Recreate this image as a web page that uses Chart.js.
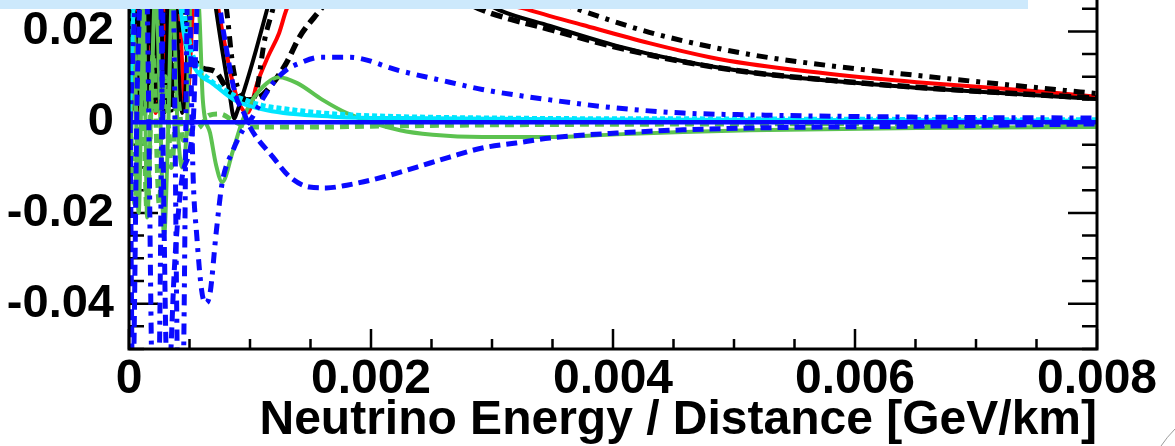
<!DOCTYPE html>
<html><head><meta charset="utf-8">
<script src="https://cdn.jsdelivr.net/npm/chart.js@4.4.1/dist/chart.umd.min.js"></script>
<style>
html,body{margin:0;padding:0;background:#fff;overflow:hidden;width:1175px;height:446px;}
#wrap{position:absolute;left:0;top:-14px;width:1175px;height:460px;}
#banner{position:absolute;left:0;top:0;width:1028px;height:9px;background:#cde9fc;}
#corner{position:absolute;left:0;top:0;}
</style></head><body>
<div id="wrap"><canvas id="c" width="1175" height="460"></canvas></div>
<div id="banner"></div>
<svg id="corner" width="1175" height="446"><path d="M1161,446 Q1167,437 1175,429" stroke="#9a9a9a" stroke-width="1" fill="none"/></svg>
<script>
// ---- axis definition ----
const xMin = 0, xMax = 0.008, xStep = 0.0005;
const yMin = -0.05, yMax = 0.03, yStep = 0.005;
const xTickValues = [0, 0.002, 0.004, 0.006, 0.008];
const xTickLabels = ['0', '0.002', '0.004', '0.006', '0.008'];
const yTickValues = [-0.04, -0.02, 0, 0.02];
const yTickLabels = ['-0.04', '-0.02', '0', '0.02'];
const xTitle = 'Neutrino Energy / Distance [GeV/km]';

// ---- series (x = E/L in GeV/km, y = value) ----
const redSolid = [[0.00001,0.004],[0.00004,0.04],[0.00008,0.002],[0.00011,0.04],[0.00014,0.003],[0.00018,0.04],[0.00022,0.002],[0.00027,0.04],[0.00032,0.003],[0.00038,0.04],[0.00047,0.0026],[0.00058,0.045],[0.00068,0.035],[0.00074,0.0247],[0.0008,0.016],[0.00085,0.0095],[0.0009,0.0048],[0.00095,0.0024],[0.00098,0.0021],[0.00101,0.0035],[0.00105,0.0078],[0.00115,0.0145],[0.00124,0.0196],[0.0013,0.0247],[0.0015,0.035],[0.002,0.045],[0.0026,0.036],[0.003,0.0272],[0.00331,0.0247],[0.00375,0.0214],[0.0043,0.0174],[0.0048,0.0143],[0.00513,0.0128],[0.0058,0.0106],[0.00651,0.0088],[0.0072,0.0074],[0.0076,0.0066],[0.008,0.0056]];
const blackSolid = [[0.000005,0.013],[0.00002,0.04],[0.00006,0.002],[0.0001,0.04],[0.00013,0.002],[0.00017,0.04],[0.0002,0.003],[0.00025,0.04],[0.00029,0.002],[0.00035,0.04],[0.00044,0.002],[0.00055,0.045],[0.00066,0.035],[0.00072,0.0247],[0.00077,0.0159],[0.00083,0.0064],[0.00087,0.0008],[0.00089,0.002],[0.00097,0.0086],[0.00105,0.0159],[0.00114,0.0247],[0.0013,0.04],[0.0019,0.045],[0.0025,0.035],[0.0029,0.027],[0.00306,0.0247],[0.00348,0.0212],[0.00403,0.0168],[0.00458,0.0134],[0.00513,0.011],[0.0058,0.0091],[0.0065,0.0076],[0.0072,0.0064],[0.008,0.0051]];
const blackDashed = [[0.00002,0.02],[0.00005,0.003],[0.00009,0.04],[0.00014,0.004],[0.00019,0.04],[0.00024,0.0027],[0.0003,0.04],[0.00035,0.0027],[0.0004,0.04],[0.00046,0.03],[0.00047,0.018],[0.00053,0.0137],[0.00061,0.0119],[0.00072,0.011],[0.0008,0.0077],[0.00091,0.0049],[0.00097,0.0049],[0.00108,0.0055],[0.00119,0.0086],[0.0013,0.013],[0.00141,0.0188],[0.00158,0.0247],[0.0018,0.032],[0.0022,0.034],[0.0026,0.029],[0.00292,0.0247],[0.00348,0.0204],[0.00403,0.0165],[0.00458,0.0133],[0.00513,0.011],[0.0058,0.0092],[0.0065,0.0077],[0.0072,0.0065],[0.008,0.0053]];
const blackDashDot = [[0.00003,0.04],[0.00008,0.003],[0.00012,0.04],[0.00016,0.003],[0.0002,0.04],[0.00026,0.0027],[0.00031,0.04],[0.00036,0.004],[0.00048,0.045],[0.0007,0.045],[0.00078,0.03],[0.00081,0.024],[0.00086,0.0121],[0.00093,0.0058],[0.001,0.0049],[0.00105,0.0064],[0.00112,0.018],[0.00118,0.024],[0.0013,0.035],[0.002,0.05],[0.003,0.035],[0.00345,0.0275],[0.00373,0.0247],[0.0043,0.0198],[0.00486,0.0163],[0.0052,0.0146],[0.0058,0.0124],[0.00651,0.0103],[0.0072,0.0084],[0.008,0.0063]];
const blueSolid = [[0,0],[0.008,0]];
const blueDashed = [[0.00001,0.0],[0.00003,-0.06],[0.00007,0.01],[0.00012,0.035],[0.00025,0.035],[0.00032,-0.06],[0.00038,-0.03],[0.00044,-0.012],[0.00053,0],[0.00057,0.03],[0.00066,0.04],[0.00078,0.02],[0.00088,0.006],[0.00095,0.002],[0.001,-0.0011],[0.00119,-0.0077],[0.00133,-0.0121],[0.00149,-0.0143],[0.00163,-0.0145],[0.0018,-0.0139],[0.0021,-0.0121],[0.00238,-0.0099],[0.00265,-0.0077],[0.00292,-0.0057],[0.0032,-0.0046],[0.00348,-0.0035],[0.00403,-0.0024],[0.00458,-0.0017],[0.00513,-0.0013],[0.00651,-0.0009],[0.008,-0.0004]];
const blueDashDot = [[0.00001,0.0],[0.00006,0.03],[0.00014,0.035],[0.0002,-0.065],[0.00024,-0.065],[0.00029,0.035],[0.00036,0.035],[0.00041,-0.065],[0.00044,-0.065],[0.00049,0.035],[0.00053,-0.012],[0.00056,-0.025],[0.0006,-0.037],[0.00063,-0.0399],[0.00067,-0.0377],[0.00072,-0.0245],[0.00077,-0.0134],[0.00086,-0.0062],[0.00094,-0.0018],[0.00102,0.0011],[0.0011,0.0049],[0.00119,0.0086],[0.0013,0.0115],[0.00141,0.013],[0.00158,0.0143],[0.00182,0.0143],[0.00224,0.0113],[0.00265,0.0088],[0.00292,0.0072],[0.00348,0.0049],[0.00403,0.0031],[0.00458,0.002],[0.00513,0.0016],[0.00651,0.0011],[0.008,0.0009]];
const greenSolid = [[0.00001,-0.015],[0.00004,0.02],[0.00008,-0.02],[0.00012,0.03],[0.00015,-0.021],[0.00018,0],[0.00022,0.03],[0.00026,0],[0.00029,-0.025],[0.00032,-0.005],[0.00036,0.03],[0.0004,0],[0.00044,-0.01],[0.00048,0],[0.00052,0.035],[0.00058,0.0247],[0.00061,0.0049],[0.00067,-0.0024],[0.00072,-0.0095],[0.00077,-0.0132],[0.00086,-0.0062],[0.00094,0.0005],[0.00102,0.0049],[0.00114,0.0086],[0.00124,0.0099],[0.00139,0.0086],[0.0016,0.0049],[0.0018,0.002],[0.00224,-0.0018],[0.00251,-0.0028],[0.00292,-0.0033],[0.00348,-0.0033],[0.00403,-0.0027],[0.00458,-0.0022],[0.00513,-0.0018],[0.00651,-0.0013],[0.008,-0.0011]];
const greenDashed = [[0.00001,0],[0.00005,-0.018],[0.0001,0.02],[0.00015,-0.02],[0.0002,0.015],[0.00025,-0.018],[0.0003,0.01],[0.00035,-0.01],[0.0004,0.005],[0.00045,-0.004],[0.0005,-0.002],[0.00058,-0.0012],[0.00066,0.0015],[0.00075,0.0018],[0.00088,0],[0.001,-0.0011],[0.0015,-0.0011],[0.002,-0.0009],[0.003,-0.0006],[0.005,-0.0004],[0.008,-0.0003]];
const cyanSolid = [[0,0],[0.00001,0.006],[0.00003,0.02],[0.00006,0.04],[0.0002,0.045],[0.00038,0.035],[0.00045,0.02],[0.0005,0.0143],[0.00057,0.0108],[0.00069,0.0085],[0.00087,0.0049],[0.00114,0.0026],[0.00168,0.0012],[0.00224,0.0009],[0.0039,0.0006],[0.0064,0.0004],[0.008,0.0003]];
const cyanDashed = [[0,0],[0.00001,0.007],[0.00003,0.022],[0.00006,0.04],[0.0002,0.045],[0.0004,0.035],[0.00048,0.02],[0.00055,0.013],[0.00066,0.0095],[0.00078,0.0072],[0.0009,0.0055],[0.0011,0.0037],[0.0013,0.0029],[0.0016,0.002],[0.002,0.0014],[0.003,0.0009],[0.005,0.0007],[0.008,0.0005]];

const FONT = "'Liberation Sans', Arial, Helvetica, sans-serif";

function mk(label, pts, color, width, dash) {
  return {
    label, data: pts.map(p => ({x: p[0], y: p[1]})),
    borderColor: color, backgroundColor: color, borderWidth: width,
    borderDash: dash || [], pointRadius: 0, fill: false,
    cubicInterpolationMode: 'monotone', borderCapStyle: 'butt'
  };
}

const datasets = [
  mk('blue solid', blueSolid, '#0a0aff', 4.5),
  mk('blue dash-dot', blueDashDot, '#0a0aff', 5, [11,7,4,7]),
  mk('blue dashed', blueDashed, '#0a0aff', 5, [11,6]),
  mk('cyan solid', cyanSolid, '#00e6ff', 4),
  mk('cyan dashed', cyanDashed, '#00e6ff', 5, [5,3]),
  mk('green solid', greenSolid, '#5cc250', 4),
  mk('green dashed', greenDashed, '#5cc250', 5, [9,6]),
  mk('black dash-dot', blackDashDot, '#000000', 5, [11,7,4,7]),
  mk('black dashed', blackDashed, '#000000', 5.5, [12,6]),
  mk('black solid', blackSolid, '#000000', 4),
  mk('red solid', redSolid, '#ff0000', 4)
];

function near(v, arr) { for (let i = 0; i < arr.length; i++) if (Math.abs(v - arr[i]) < 1e-9) return i; return -1; }

const frameTicks = {
  id: 'frameTicks',
  beforeDatasetsDraw(chart) {
    const {ctx, chartArea: a, scales: {x, y}} = chart;
    ctx.save();
    ctx.strokeStyle = '#000'; ctx.lineWidth = 2.5;
    ctx.beginPath();
    y.ticks.forEach(t => {
      const py = y.getPixelForValue(t.value);
      const len = near(t.value, yTickValues) >= 0 ? 29 : 15;
      ctx.moveTo(a.left, py); ctx.lineTo(a.left + len, py);
      ctx.moveTo(a.right, py); ctx.lineTo(a.right - len, py);
    });
    x.ticks.forEach(t => {
      const px = x.getPixelForValue(t.value);
      const len = near(t.value, xTickValues) >= 0 ? 20 : 10;
      ctx.moveTo(px, a.bottom); ctx.lineTo(px, a.bottom - len);
    });
    ctx.stroke();
    ctx.restore();
  },
  afterDatasetsDraw(chart) {
    const {ctx, chartArea: a} = chart;
    ctx.save();
    ctx.strokeStyle = '#000'; ctx.lineWidth = 3;
    ctx.strokeRect(a.left, a.top, a.right - a.left, a.bottom - a.top);
    ctx.restore();
  }
};

new Chart(document.getElementById('c'), {
  type: 'line',
  data: {datasets},
  options: {
    responsive: false, animation: false, devicePixelRatio: 1, events: [],
    layout: {padding: {left: 0, right: 78, top: 0, bottom: 0}},
    plugins: {legend: {display: false}, tooltip: {enabled: false}, title: {display: false}},
    scales: {
      x: {
        type: 'linear', min: xMin, max: xMax,
        grid: {display: false}, border: {display: false},
        ticks: {
          stepSize: xStep, autoSkip: false, maxRotation: 0, padding: -1,
          color: '#000', font: {family: FONT, size: 48, weight: 'bold', lineHeight: 1},
          callback: v => { const i = near(v, xTickValues); return i >= 0 ? xTickLabels[i] : ''; }
        },
        title: {display: true, text: xTitle, align: 'end', color: '#000',
          font: {family: FONT, size: 48, weight: 'bold', lineHeight: 1}, padding: {top: 0, bottom: 1}},
        afterFit: s => { s.height = 97; s.paddingLeft = 0; s.paddingRight = 0; }
      },
      y: {
        type: 'linear', min: yMin, max: yMax,
        grid: {display: false}, border: {display: false},
        ticks: {
          stepSize: yStep, autoSkip: false, padding: 7,
          color: '#000', font: {family: FONT, size: 47, weight: 'bold'},
          callback: v => { const i = near(v, yTickValues); return i >= 0 ? yTickLabels[i] : ''; }
        },
        afterFit: s => { s.width = 129; s.paddingTop = 0; s.paddingBottom = 0; }
      }
    }
  },
  plugins: [frameTicks]
});
</script>
</body></html>
